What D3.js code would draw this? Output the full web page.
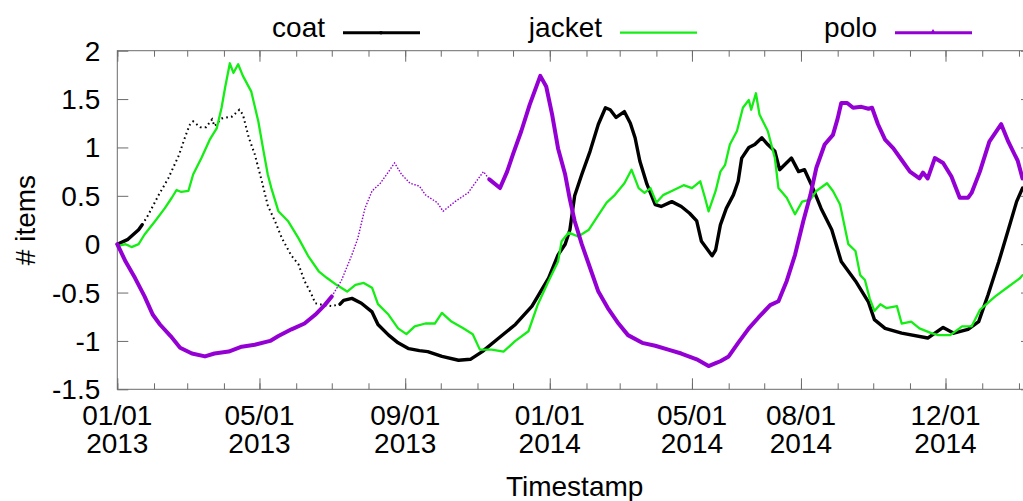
<!DOCTYPE html>
<html>
<head>
<meta charset="utf-8">
<script src="https://cdn.jsdelivr.net/npm/d3@7"></script>
<style>
  html, body { margin: 0; padding: 0; background: #fff; }
  svg { display: block; font-family: "Liberation Sans", Arial, Helvetica, sans-serif; }
</style>
</head>
<body>
<div id="chart"></div>
<script>
// days since 01/01/2013
const coatDays = [0, 9, 18, 21, 26, 35, 43, 52, 57, 61, 64, 70, 75, 80, 82, 88, 97, 103, 106, 111, 116, 122, 127, 133, 139, 147, 153, 158, 164, 167, 174, 181, 188, 191, 198, 206, 215, 220, 229, 237, 246, 255, 262, 274, 288, 298, 308, 322, 336, 350, 364, 372, 378, 382, 386, 392, 399, 406, 412, 416, 421, 428, 433, 437, 441, 447, 454, 459, 468, 476, 483, 489, 493, 502, 505, 509, 514, 520, 524, 527, 533, 538, 544, 549, 555, 559, 569, 575, 580, 586, 594, 603, 611, 623, 634, 639, 648, 662, 684, 697, 706, 718, 727, 735, 744, 752, 759, 764];
const coatVals = [0, 0.05, 0.15, 0.2, 0.3, 0.51, 0.68, 0.92, 1.1, 1.23, 1.27, 1.21, 1.21, 1.29, 1.22, 1.3, 1.32, 1.39, 1.34, 1.1, 0.93, 0.65, 0.4, 0.24, 0.06, -0.12, -0.21, -0.38, -0.52, -0.61, -0.63, -0.64, -0.62, -0.58, -0.56, -0.61, -0.7, -0.83, -0.94, -1.02, -1.08, -1.1, -1.11, -1.16, -1.2, -1.19, -1.11, -0.97, -0.83, -0.64, -0.35, -0.11, 0, 0.15, 0.5, 0.72, 0.96, 1.24, 1.41, 1.39, 1.31, 1.37, 1.25, 1.1, 0.86, 0.62, 0.41, 0.39, 0.44, 0.39, 0.32, 0.24, 0.03, -0.12, -0.06, 0.2, 0.37, 0.51, 0.65, 0.89, 1.0, 1.03, 1.1, 1.03, 0.96, 0.77, 0.89, 0.75, 0.77, 0.61, 0.37, 0.15, -0.18, -0.38, -0.6, -0.78, -0.87, -0.92, -0.97, -0.86, -0.92, -0.88, -0.8, -0.52, -0.18, 0.15, 0.44, 0.58];

const jacketDays = [0, 7, 12, 18, 23, 32, 40, 46, 50, 54, 60, 64, 71, 78, 84, 88, 91, 95, 98, 102, 106, 113, 119, 123, 127, 130, 136, 144, 153, 161, 170, 177, 185, 194, 201, 208, 215, 220, 229, 237, 244, 251, 260, 268, 274, 282, 292, 300, 306, 316, 326, 336, 347, 355, 364, 372, 375, 381, 389, 398, 406, 413, 420, 428, 434, 440, 445, 450, 455, 461, 468, 478, 485, 492, 496, 499, 505, 509, 513, 517, 523, 528, 533, 535, 539, 542, 549, 555, 558, 565, 572, 578, 585, 590, 599, 604, 610, 617, 623, 627, 631, 635, 639, 644, 649, 658, 662, 670, 677, 687, 693, 703, 713, 721, 728, 741, 752, 762, 764];
const jacketVals = [-0.02, 0, -0.03, 0, 0.1, 0.24, 0.37, 0.48, 0.56, 0.54, 0.55, 0.72, 0.89, 1.08, 1.2, 1.41, 1.62, 1.87, 1.77, 1.86, 1.74, 1.58, 1.27, 0.99, 0.72, 0.58, 0.34, 0.24, 0.06, -0.12, -0.28, -0.35, -0.42, -0.49, -0.42, -0.4, -0.45, -0.62, -0.73, -0.87, -0.93, -0.85, -0.82, -0.82, -0.71, -0.8, -0.87, -0.93, -1.09, -1.09, -1.11, -1.0, -0.9, -0.62, -0.38, -0.18, 0.03, 0.12, 0.08, 0.15, 0.3, 0.43, 0.51, 0.63, 0.77, 0.58, 0.53, 0.58, 0.43, 0.51, 0.55, 0.61, 0.58, 0.65, 0.48, 0.34, 0.55, 0.75, 0.82, 1.03, 1.17, 1.41, 1.49, 1.39, 1.56, 1.34, 1.17, 0.89, 0.58, 0.48, 0.31, 0.44, 0.46, 0.55, 0.63, 0.55, 0.41, 0.0, -0.07, -0.32, -0.37, -0.56, -0.69, -0.62, -0.66, -0.64, -0.82, -0.8, -0.87, -0.92, -0.94, -0.94, -0.85, -0.85, -0.68, -0.54, -0.44, -0.35, -0.32];

const poloDays = [0, 7, 15, 23, 30, 36, 45, 53, 63, 74, 82, 94, 105, 116, 129, 136, 147, 158, 167, 175, 181, 189, 198, 203, 209, 215, 222, 229, 234, 240, 247, 255, 260, 270, 275, 285, 296, 303, 309, 314, 323, 329, 334, 341, 348, 357, 362, 367, 372, 378, 382, 386, 392, 398, 406, 414, 423, 431, 443, 454, 465, 476, 489, 499, 505, 509, 516, 524, 533, 541, 551, 558, 565, 572, 579, 585, 590, 597, 604, 608, 611, 616, 621, 628, 634, 637, 642, 648, 655, 662, 669, 677, 680, 684, 690, 697, 704, 711, 718, 721, 728, 736, 746, 752, 760, 764];
const poloVals = [0, -0.18, -0.35, -0.54, -0.73, -0.83, -0.95, -1.07, -1.13, -1.16, -1.13, -1.11, -1.06, -1.04, -1.0, -0.95, -0.88, -0.82, -0.73, -0.63, -0.54, -0.38, -0.11, 0.06, 0.37, 0.55, 0.63, 0.75, 0.84, 0.72, 0.63, 0.6, 0.51, 0.43, 0.34, 0.44, 0.53, 0.65, 0.75, 0.67, 0.58, 0.75, 0.93, 1.17, 1.44, 1.74, 1.63, 1.34, 0.99, 0.72, 0.46, 0.24, 0.0, -0.21, -0.49, -0.66, -0.82, -0.94, -1.02, -1.05, -1.09, -1.13, -1.19, -1.26, -1.23, -1.21, -1.16, -1.02, -0.87, -0.76, -0.63, -0.59, -0.38, -0.11, 0.24, 0.51, 0.79, 1.03, 1.13, 1.3, 1.46, 1.46, 1.41, 1.42, 1.4, 1.41, 1.24, 1.08, 0.99, 0.87, 0.75, 0.68, 0.74, 0.68, 0.89, 0.84, 0.7, 0.48, 0.48, 0.53, 0.75, 1.06, 1.24, 1.06, 0.86, 0.68];

// stretches where the samples are sparse (drawn as dots in the original)
const coatSparse = [21, 188];
const poloSparse = [181, 314];

const yTicks = [-1.5, -1, -0.5, 0, 0.5, 1, 1.5, 2];
const xLabels = ['2013-01-01', '2013-05-01', '2013-09-01', '2014-01-01', '2014-05-01', '2014-08-01', '2014-12-01'];

const W = 1023, H = 501;
const L = 117.3, R = 1032, T = 50.7, B = 389.3;
const FS = 28;
const start = new Date(Date.UTC(2013, 0, 1));
const toDate = d => new Date(start.getTime() + d * 864e5);

const x = d3.scaleUtc().domain([start, toDate(772)]).range([L, R]);
const y = d3.scaleLinear().domain([-1.5, 2]).range([B, T]);

const svg = d3.select('#chart').append('svg').attr('width', W).attr('height', H);

// axes: major ticks 11px, monthly minor ticks 6px, mirrored on top/right
const months = d3.utcMonth.range(start, toDate(772));
const majors = xLabels.map(s => new Date(s + 'T00:00:00Z'));
const axisCol = '#6b6b6b';
function tickAxis(axisFn, yPos, vals, size) {
  const g = svg.append('g').attr('transform', `translate(0,${yPos})`)
    .call(axisFn(x).tickValues(vals).tickSize(size).tickFormat(''));
  g.select('.domain').remove();
  g.selectAll('line').attr('stroke', axisCol);
}
tickAxis(d3.axisBottom, B, months, -6);
tickAxis(d3.axisBottom, B, majors, -11);
tickAxis(d3.axisTop, T, months, -6);
tickAxis(d3.axisTop, T, majors, -11);

const fmtY = v => String(v);
const yl = svg.append('g').attr('transform', `translate(${L},0)`)
  .call(d3.axisLeft(y).tickValues(yTicks).tickSize(-11).tickPadding(17).tickFormat(fmtY));
yl.select('.domain').remove();
yl.selectAll('line').attr('stroke', axisCol);
yl.selectAll('text').attr('fill', '#000').attr('font-size', FS).attr('font-family', null).attr('dy', '0.34em');
const yr = svg.append('g').attr('transform', `translate(${R},0)`)
  .call(d3.axisRight(y).tickValues(yTicks).tickSize(-11).tickFormat(''));
yr.select('.domain').remove();
yr.selectAll('line').attr('stroke', axisCol);

svg.append('rect').attr('x', L).attr('y', T).attr('width', R - L).attr('height', B - T)
  .attr('fill', 'none').attr('stroke', axisCol).attr('stroke-width', 1);

// two-line date labels
const fmtMD = d3.utcFormat('%m/%d'), fmtYr = d3.utcFormat('%Y');
const xl = svg.append('g').attr('font-size', FS).attr('text-anchor', 'middle');
majors.forEach(d => {
  const t = xl.append('text').attr('x', x(d));
  t.append('tspan').attr('x', x(d)).attr('y', 425).text(fmtMD(d));
  t.append('tspan').attr('x', x(d)).attr('y', 453).text(fmtYr(d));
});

svg.append('text').attr('x', (L + R) / 2).attr('y', 496).attr('text-anchor', 'middle')
  .attr('font-size', FS).text('Timestamp');
svg.append('text').attr('transform', 'translate(35,220) rotate(-90)').attr('text-anchor', 'middle')
  .attr('font-size', FS).text('# items');

// series
const line = d3.line().x(p => x(toDate(p[0]))).y(p => y(p[1])).curve(d3.curveLinear);
function pieces(days, vals, sparse) {
  const pts = days.map((d, i) => [d, vals[i]]);
  if (!sparse) return { dense: [pts], sparse: [] };
  return {
    dense: [pts.filter(p => p[0] <= sparse[0]), pts.filter(p => p[0] >= sparse[1])],
    sparse: [pts.filter(p => p[0] >= sparse[0] && p[0] <= sparse[1])]
  };
}
const series = [
  { name: 'coat', days: coatDays, vals: coatVals, sparse: coatSparse, color: '#000000', w: 3.4, dotW: 2, dash: '1.6 3.2' },
  { name: 'jacket', days: jacketDays, vals: jacketVals, sparse: null, color: '#14ee14', w: 2.3 },
  { name: 'polo', days: poloDays, vals: poloVals, sparse: poloSparse, color: '#9400d3', w: 4, dotW: 1.4, dash: '1.5 1.6' }
];
const plot = svg.append('g');
series.forEach(s => {
  const p = pieces(s.days, s.vals, s.sparse);
  p.dense.forEach(seg => plot.append('path').attr('d', line(seg)).attr('fill', 'none')
    .attr('stroke', s.color).attr('stroke-width', s.w).attr('stroke-linejoin', 'round').attr('stroke-linecap', 'round'));
  p.sparse.forEach(seg => plot.append('path').attr('d', line(seg)).attr('fill', 'none')
    .attr('stroke', s.color).attr('stroke-width', s.dotW).attr('stroke-dasharray', s.dash));
});

// legend
const legendRight = [325, 602, 877];
series.forEach((s, i) => {
  const xr = legendRight[i];
  svg.append('text').attr('x', xr).attr('y', 37).attr('text-anchor', 'end').attr('font-size', FS).text(s.name);
  svg.append('line').attr('x1', xr + 18).attr('x2', xr + 95).attr('y1', 32.7).attr('y2', 32.7)
    .attr('stroke', s.color).attr('stroke-width', s.name === 'jacket' ? 2.2 : 3);
});
svg.append('circle').attr('cx', legendRight[0] + 56).attr('cy', 32.7).attr('r', 1.8).attr('fill', '#000');
svg.append('path').attr('d', d3.symbol(d3.symbolTriangle, 14)()).attr('transform', `translate(${legendRight[2] + 56},32.2)`).attr('fill', '#9400d3');
</script>
</body>
</html>
